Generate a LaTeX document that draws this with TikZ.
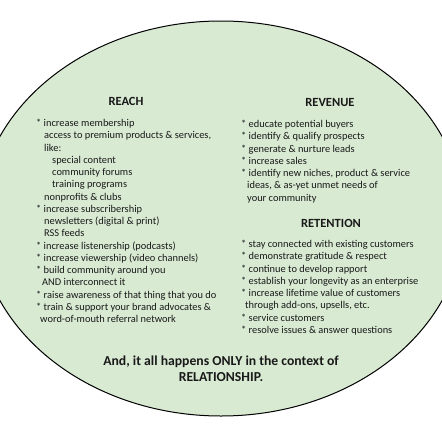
\documentclass[tikz,border=0pt]{standalone}
\usepackage{fontspec}
\setmainfont{Carlito}
\definecolor{bg}{RGB}{217,234,211}
\definecolor{ink}{RGB}{25,25,25}
\begin{document}
\begin{tikzpicture}[x=1pt,y=-1pt,
  body/.style={anchor=base west,inner sep=0pt,text=ink,font=\fontsize{10.4}{12}\selectfont},
  head/.style={anchor=base,inner sep=0pt,text=ink,font=\fontsize{12.5}{14}\selectfont\bfseries},
  foot/.style={anchor=base,inner sep=0pt,text=ink,font=\fontsize{13.7}{15}\selectfont\bfseries}]
\useasboundingbox (0,0) rectangle (442,442);
\clip (0,0) rectangle (442,442);
\draw[fill=bg, line width=1pt] (221,218.5) ellipse [x radius=243, y radius=197.5];
\node[head] (reach) at (126,105.5) {REACH};
\node[head] (revenue) at (330,106.5) {REVENUE};
\node[head] (retention) at (331,227.5) {RETENTION};
\foreach \dx/\t [count=\i] in {
  0/{* increase membership},
  8/{access to premium products \& services,},
  8/{like:},
  16/{special content},
  16/{community forums},
  16/{training programs},
  8/{nonprofits \& clubs},
  0/{* increase subscribership},
  8/{newsletters (digital \& print)},
  8/{RSS feeds},
  0/{* increase listenership (podcasts)},
  0/{* increase viewership (video channels)},
  0/{* build community around you},
  6/{AND interconnect it},
  0/{* raise awareness of that thing that you do},
  0/{* train \& support your brand advocates \&},
  4/{word-of-mouth referral network}}
  \node[body] (ra\i) at (36+\dx, 126.5+12.25*\i-12.25) {\t};
\foreach \dx/\t [count=\i] in {
  0/{* educate potential buyers},
  0/{* identify \& qualify prospects},
  0/{* generate \& nurture leads},
  0/{* increase sales},
  0/{* identify new niches, product \& service},
  6/{ideas, \& as-yet unmet needs of},
  6/{your community}}
  \node[body] (rv\i) at (241+\dx, 127.5+12.25*\i-12.25) {\t};
\foreach \dx/\t [count=\i] in {
  0/{* stay connected with existing customers},
  0/{* demonstrate gratitude \& respect},
  0/{* continue to develop rapport},
  0/{* establish your longevity as an enterprise},
  0/{* increase lifetime value of customers},
  4/{through add-ons, upsells, etc.},
  0/{* service customers},
  0/{* resolve issues \& answer questions}}
  \node[body] (rt\i) at (241+\dx, 247.5+12.25*\i-12.25) {\t};
\node[foot] (foot1) at (221,365.5) {And, it all happens ONLY in the context of};
\node[foot] (foot2) at (221,381.5) {RELATIONSHIP.};
\end{tikzpicture}
\end{document}
